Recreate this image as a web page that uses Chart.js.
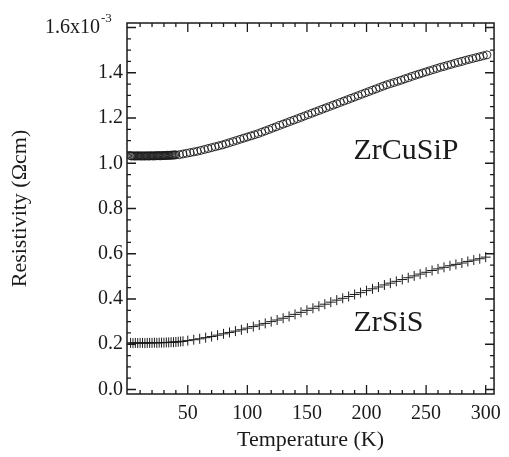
<!DOCTYPE html>
<html>
<head>
<meta charset="UTF-8">
<title>Resistivity vs Temperature</title>
<script src="https://cdn.jsdelivr.net/npm/chart.js"></script>
<style>
  html, body { margin: 0; padding: 0; background: #fff; }
  #wrap { width: 509px; height: 457px; }
</style>
</head>
<body>
<div id="wrap"><canvas id="c" width="509" height="457"></canvas></div>
<script>
// temperatures (K) and resistivity (x10^-3 Ohm cm)
const tCuSiP = [2,3,4,5,6,7,8,9,10,11,12,13,14,15,16,17,18,19,20,21,22,23,24,25,26,27,28,29,30,31,32,33,34,35,36,37,38,39,40,
  43,46,49,52,55,58,61,64,67,70,73,76,79,82,85,88,91,94,97,100,103,106,109,112,115,118,121,124,127,130,133,136,139,142,145,148,
  151,154,157,160,163,166,169,172,175,178,181,184,187,190,193,196,199,202,205,208,211,214,217,220,223,226,229,232,235,238,241,244,
  247,250,253,256,259,262,265,268,271,274,277,280,283,286,289,292,295,298,301];
const rhoCuSiP = [1.033,1.032,1.033,1.032,1.032,1.033,1.032,1.033,1.032,1.032,1.033,1.032,1.032,1.033,1.032,1.033,1.032,1.033,1.033,1.032,
  1.033,1.033,1.033,1.034,1.033,1.033,1.034,1.034,1.034,1.034,1.035,1.035,1.035,1.035,1.036,1.036,1.036,1.037,1.037,
  1.038,1.041,1.044,1.047,1.050,1.053,1.057,1.061,1.065,1.069,1.073,1.077,1.081,1.086,1.091,1.096,1.101,1.106,1.111,1.116,
  1.121,1.126,1.131,1.137,1.143,1.149,1.155,1.161,1.167,1.173,1.179,1.185,1.191,1.197,1.203,1.209,1.215,1.221,1.227,1.233,
  1.239,1.245,1.251,1.257,1.263,1.269,1.275,1.281,1.287,1.293,1.299,1.305,1.311,1.317,1.323,1.329,1.335,1.341,1.347,1.352,
  1.357,1.362,1.367,1.373,1.378,1.384,1.389,1.394,1.399,1.404,1.409,1.414,1.419,1.424,1.428,1.433,1.437,1.442,1.446,1.450,
  1.455,1.459,1.463,1.467,1.471,1.475,1.479];

const tSiS = [2,4,6,8,10,12,14,16,18,20,22,24,26,28,30,32,34,36,38,40,42,44,46,
  50,55,60,65,70,75,80,85,90,95,100,105,110,115,120,125,130,135,140,145,150,155,160,165,170,175,180,185,190,195,200,
  205,210,215,220,225,230,235,240,245,250,255,260,265,270,275,280,285,290,295,300];
const rhoSiS = [0.206,0.205,0.206,0.205,0.206,0.206,0.205,0.206,0.206,0.206,0.207,0.206,0.207,0.207,0.207,0.208,0.208,0.209,0.209,0.210,0.211,0.212,0.213,
  0.216,0.220,0.224,0.229,0.234,0.240,0.246,0.252,0.258,0.264,0.271,0.278,0.285,0.292,0.300,0.307,0.315,0.323,0.332,0.341,0.350,0.359,
  0.368,0.377,0.386,0.395,0.403,0.411,0.420,0.428,0.437,0.445,0.453,0.462,0.470,0.478,0.486,0.494,0.502,0.510,0.518,0.526,0.533,
  0.540,0.547,0.553,0.559,0.566,0.572,0.578,0.585];

const xTicks = [50, 100, 150, 200, 250, 300];
const yTicks = [0.0, 0.2, 0.4, 0.6, 0.8, 1.0, 1.2, 1.4, 1.6];

const FONT = "'Liberation Serif', 'DejaVu Serif', serif";
const INK = '#1a1a1a';

function pts(xs, ys) { return xs.map((x, i) => ({ x: x, y: ys[i] })); }

// inward ticks on all four sides, frame, top label and sample names
const decor = {
  id: 'decor',
  afterDraw(chart) {
    const ctx = chart.ctx;
    const a = chart.chartArea;
    const xs = chart.scales.x, ys = chart.scales.y;
    ctx.save();
    ctx.strokeStyle = INK;
    ctx.lineWidth = 1.5;
    ctx.strokeRect(a.left, a.top, a.right - a.left, a.bottom - a.top);

    ctx.lineWidth = 1.3;
    ctx.beginPath();
    for (let v = 10; v <= 300; v += 10) {
      const px = xs.getPixelForValue(v);
      const len = v % 50 === 0 ? 9 : 4;
      ctx.moveTo(px, a.bottom); ctx.lineTo(px, a.bottom - len);
      ctx.moveTo(px, a.top); ctx.lineTo(px, a.top + len);
    }
    for (let k = 0; k <= 32; k++) {
      const v = k * 0.05;
      const py = ys.getPixelForValue(v);
      const len = k % 4 === 0 ? 9 : 4;
      ctx.moveTo(a.left, py); ctx.lineTo(a.left + len, py);
      ctx.moveTo(a.right, py); ctx.lineTo(a.right - len, py);
    }
    ctx.stroke();

    // top y label with exponent
    const py = ys.getPixelForValue(1.6);
    ctx.fillStyle = INK;
    ctx.textBaseline = 'middle';
    ctx.textAlign = 'right';
    ctx.font = '20px ' + FONT;
    ctx.fillText('1.6x10', a.left - 27, py);
    ctx.font = '13px ' + FONT;
    ctx.textAlign = 'left';
    ctx.fillText('-3', a.left - 26, py - 9);

    ctx.font = '30px ' + FONT;
    ctx.textBaseline = 'alphabetic';
    ctx.fillText('ZrCuSiP', xs.getPixelForValue(189), ys.getPixelForValue(1.02));
    ctx.fillText('ZrSiS', xs.getPixelForValue(189), ys.getPixelForValue(0.26));
    ctx.restore();
  }
};

new Chart(document.getElementById('c'), {
  type: 'scatter',
  data: {
    datasets: [
      {
        label: 'ZrCuSiP',
        data: pts(tCuSiP, rhoCuSiP),
        pointStyle: 'circle',
        pointRadius: 4,
        borderWidth: 0.9,
        borderColor: INK,
        backgroundColor: 'rgba(0,0,0,0)',
        showLine: false
      },
      {
        label: 'ZrSiS',
        data: pts(tSiS, rhoSiS),
        pointStyle: 'cross',
        pointRadius: 5,
        borderWidth: 1,
        borderColor: INK,
        backgroundColor: INK,
        showLine: false
      }
    ]
  },
  options: {
    responsive: false,
    animation: false,
    events: [],
    layout: { padding: { left: 0, top: 23, right: 13, bottom: 0 } },
    plugins: { legend: { display: false }, tooltip: { enabled: false } },
    scales: {
      x: {
        type: 'linear',
        min: -1,
        max: 307,
        afterBuildTicks: s => { s.ticks = xTicks.map(v => ({ value: v })); },
        afterFit: s => { s.height = 63; },
        grid: { display: false, drawTicks: false },
        border: { display: false },
        ticks: { color: INK, padding: 8, font: { family: FONT, size: 20 }, maxRotation: 0 },
        title: { display: true, text: 'Temperature (K)', color: INK, padding: { top: 0, bottom: 4 }, font: { family: FONT, size: 22 } }
      },
      y: {
        type: 'linear',
        min: -0.02,
        max: 1.62,
        afterBuildTicks: s => { s.ticks = yTicks.map(v => ({ value: v })); },
        afterFit: s => { s.width = 127; },
        grid: { display: false, drawTicks: false },
        border: { display: false },
        ticks: {
          color: INK, padding: 4, font: { family: FONT, size: 20 },
          callback: v => (v > 1.5 ? '' : v.toFixed(1))
        },
        title: { display: true, text: 'Resistivity (\u03A9cm)', color: INK, padding: { top: 7, bottom: 0 }, font: { family: FONT, size: 22 } }
      }
    }
  },
  plugins: [decor]
});
</script>
</body>
</html>
